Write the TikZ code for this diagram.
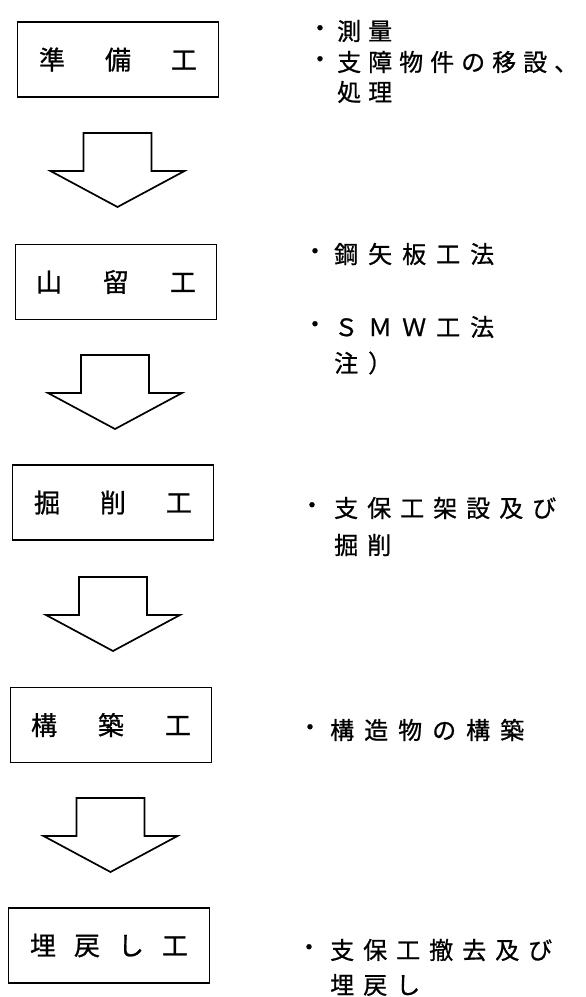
\documentclass[tikz,border=0pt]{standalone}
\usepackage{fontspec}
\setmainfont{Noto Sans CJK JP}[FakeBold=0.8]
\def\mylsA#1{\ifx\relax#1\else#1\expandafter\mylsB\fi}
\def\mylsB#1{\ifx\relax#1\else\hspace{\mylsgap}#1\expandafter\mylsB\fi}
\newcommand\myls[2]{\def\mylsgap{#1}\mylsA#2\relax}
\tikzset{
  stepbox/.style={draw, line width=1.9pt, minimum width=201pt, minimum height=75pt, inner sep=0pt, font=\fontsize{26}{30}\selectfont},
  rtext/.style={anchor=west, inner sep=0pt, font=\fontsize{24}{28}\selectfont},
  bul/.style={inner sep=0pt, font=\fontsize{24}{28}\selectfont},
  arrowline/.style={draw, line width=1.7pt, line join=miter},
  downarrow/.pic={\draw[arrowline] (-34,0) -- (34,0) -- (34,38) -- (67,38) -- (0,74) -- (-67,38) -- (-34,38) -- cycle;}
}
\begin{document}
\begin{tikzpicture}[x=1pt, y=-1pt]
\useasboundingbox (0,0) rectangle (586,997);
% boxes
\node[stepbox] (b1) at (118,59.5) {\myls{40pt}{準備工}};
\node[stepbox] (b2) at (116,282) {\myls{41pt}{山留工}};
\node[stepbox] (b3) at (113,502.5) {\myls{40pt}{掘削工}};
\node[stepbox] (b4) at (111,725) {\myls{41pt}{構築工}};
\node[stepbox] (b5) at (109,945.5) {\myls{18pt}{埋戻し工}};
% block arrows
\pic at (117.5,133) {downarrow};
\pic at (115,355) {downarrow};
\pic at (113,577) {downarrow};
\pic at (110.5,798) {downarrow};
% right texts
\node[bul] (d1) at (320,31) {・};
\node[rtext] (t1) at (337,31) {\myls{7pt}{測量}};
\node[bul] (d2) at (320,62) {・};
\node[rtext] (t2) at (337,62) {\myls{7pt}{支障物件の移設、}};
\node[rtext] (t3) at (337,92) {\myls{7pt}{処理}};
\node[bul] (d4) at (315,254) {・};
\node[rtext] (t4) at (334,254) {\myls{10pt}{鋼矢板工法}};
\node[bul] (d5) at (315,327) {・};
\node[rtext] (t5) at (334,327) {\myls{10pt}{ＳＭＷ工法}};
\node[rtext] (t6) at (334,363) {\myls{10pt}{注）}};
\node[bul] (d7) at (312,508) {・};
\node[rtext] (t7) at (334,508) {\myls{9pt}{支保工架設及び}};
\node[rtext] (t8) at (334,545) {\myls{9pt}{掘削}};
\node[bul] (d9) at (310,730) {・};
\node[rtext] (t9) at (330,730) {\myls{10pt}{構造物の構築}};
\node[bul] (d10) at (309,950) {・};
\node[rtext] (t10) at (330,950) {\myls{9pt}{支保工撤去及び}};
\node[rtext] (t11) at (330,985) {\myls{9pt}{埋戻し}};
\end{tikzpicture}
\end{document}
